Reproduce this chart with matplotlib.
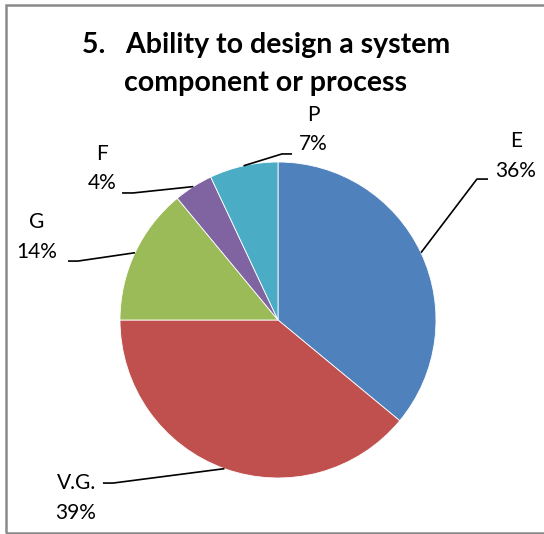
import matplotlib.pyplot as plt
from matplotlib.patches import Rectangle
import numpy as np

# dados do gráfico
categorias = ['E', 'V.G.', 'G', 'F', 'P']
percentuais = [36, 39, 14, 4, 7]
cores = ['#4F81BD', '#C0504D', '#9BBB59', '#8064A2', '#4BACC6']

titulo_l1 = '5.   Ability to design a system'
titulo_l2 = 'component or process'

# posição dos rótulos (texto, cotovelo, fim da linha), em unidades do raio
rotulos_pos = {
    'E':    ((1.506, 1.038), (1.259, 0.892), (1.329, 0.892)),
    'V.G.': ((-1.278, -1.127), (-1.044, -1.032), (-1.108, -1.032)),
    'G':    ((-1.528, 0.525), (-1.266, 0.373), (-1.329, 0.373)),
    'F':    ((-1.114, 0.959), (-0.918, 0.804), (-0.987, 0.804)),
    'P':    ((0.222, 1.206), (0.025, 1.051), (0.089, 1.051)),
}

plt.rcParams['font.family'] = ['Lato', 'DejaVu Sans']

fig = plt.figure(figsize=(5.44, 5.34), dpi=100)
fig.patch.set_facecolor('white')

# moldura cinza do gráfico
fig.patches.append(Rectangle((5.5 / 544, 1.5 / 534), 1.2, 528 / 534,
                             transform=fig.transFigure, fill=False,
                             edgecolor='#8a8a8a', linewidth=1.8))

ax = fig.add_axes([120 / 544, 56 / 534, 316 / 544, 316 / 534])
wedges, _ = ax.pie(percentuais, colors=cores, startangle=90, counterclock=False,
                   radius=1, wedgeprops=dict(edgecolor='white', linewidth=0.6))
ax.set_xlim(-1, 1)
ax.set_ylim(-1, 1)
ax.set_aspect('equal')
ax.axis('off')

for w, cat, pct in zip(wedges, categorias, percentuais):
    ang = np.deg2rad((w.theta1 + w.theta2) / 2)
    x0, y0 = np.cos(ang), np.sin(ang)
    (tx, ty), (ex, ey), (fx, fy) = rotulos_pos[cat]
    ax.plot([x0, ex, fx], [y0, ey, fy], color='black', linewidth=1.2,
            clip_on=False, solid_capstyle='butt')
    ax.text(tx, ty, f'{cat}\n{pct}%', ha='center', va='center',
            multialignment='center', fontsize=15, linespacing=1.6,
            clip_on=False)

fig.text(266 / 544, 1 - 45 / 534, titulo_l1, ha='center', va='center',
         fontsize=20.5, fontweight='bold')
fig.text(266 / 544, 1 - 83 / 534, titulo_l2, ha='center', va='center',
         fontsize=20.5, fontweight='bold')

fig.savefig('out.png', dpi=100)
